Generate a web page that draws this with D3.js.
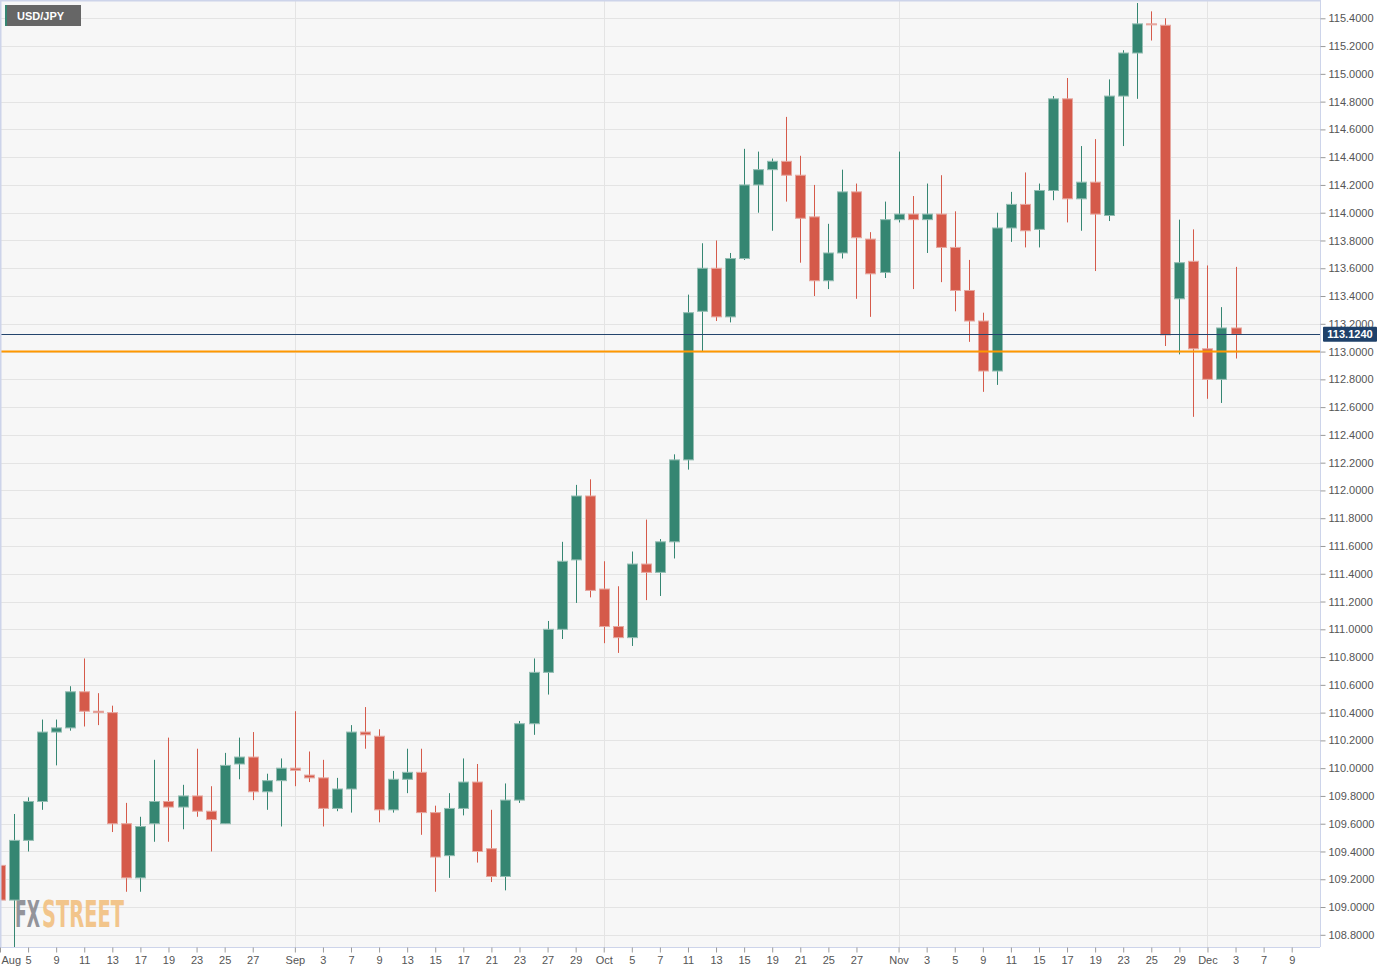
<!DOCTYPE html>
<html><head><meta charset="utf-8">
<script src="https://cdn.jsdelivr.net/npm/d3@7"></script>
<style>
html,body{margin:0;padding:0;background:#fff;}
svg{display:block;font-family:"Liberation Sans",Arial,sans-serif;}
</style></head><body>
<svg id="chart" width="1397" height="973"></svg>
<script>
// ---------- DATA ----------
const symbol = "USD/JPY";
const dates = [
"2021-08-03","2021-08-04","2021-08-05","2021-08-06","2021-08-09","2021-08-10","2021-08-11","2021-08-12","2021-08-13","2021-08-16",
"2021-08-17","2021-08-18","2021-08-19","2021-08-20","2021-08-23","2021-08-24","2021-08-25","2021-08-26","2021-08-27","2021-08-30",
"2021-08-31","2021-09-01","2021-09-02","2021-09-03","2021-09-06","2021-09-07","2021-09-08","2021-09-09","2021-09-10","2021-09-13",
"2021-09-14","2021-09-15","2021-09-16","2021-09-17","2021-09-20","2021-09-21","2021-09-22","2021-09-23","2021-09-24","2021-09-27",
"2021-09-28","2021-09-29","2021-09-30","2021-10-01","2021-10-04","2021-10-05","2021-10-06","2021-10-07","2021-10-08","2021-10-11",
"2021-10-12","2021-10-13","2021-10-14","2021-10-15","2021-10-18","2021-10-19","2021-10-20","2021-10-21","2021-10-22","2021-10-25",
"2021-10-26","2021-10-27","2021-10-28","2021-10-29","2021-11-01","2021-11-02","2021-11-03","2021-11-04","2021-11-05","2021-11-08",
"2021-11-09","2021-11-10","2021-11-11","2021-11-12","2021-11-15","2021-11-16","2021-11-17","2021-11-18","2021-11-19","2021-11-22",
"2021-11-23","2021-11-24","2021-11-25","2021-11-26","2021-11-29","2021-11-30","2021-12-01","2021-12-02","2021-12-03"];
const futureDates = ["2021-12-06","2021-12-07","2021-12-08","2021-12-09"];

const open = [109.30,109.05,109.48,109.76,110.26,110.29,110.55,110.41,110.40,109.60,
109.21,109.60,109.76,109.72,109.80,109.69,109.60,110.03,110.08,109.83,
109.91,110.00,109.95,109.93,109.71,109.85,110.26,110.23,109.70,109.92,
109.97,109.68,109.37,109.71,109.90,109.42,109.22,109.77,110.32,110.69,
111.00,111.50,111.96,111.29,111.02,110.94,111.47,111.41,111.63,112.22,
113.29,113.60,113.25,113.67,114.20,114.31,114.37,114.27,113.97,113.51,
113.71,114.15,113.81,113.57,113.95,113.99,113.95,113.99,113.75,113.44,
113.22,112.86,113.89,114.06,113.88,114.16,114.82,114.10,114.22,113.98,
114.84,115.15,115.36,115.35,113.38,113.65,113.02,112.80,113.17];
const high = [109.35,109.67,109.79,110.35,110.35,110.59,110.79,110.54,110.45,109.75,
109.65,110.06,110.22,109.88,110.14,109.87,110.11,110.22,110.26,109.96,
110.07,110.41,110.12,110.06,109.93,110.31,110.44,110.28,109.98,110.14,
110.14,109.73,109.82,110.07,110.03,109.70,109.89,110.34,110.79,111.06,
111.63,112.04,112.08,111.49,111.31,111.56,111.79,111.65,112.26,113.41,
113.78,113.80,113.71,114.46,114.44,114.39,114.69,114.41,114.20,113.92,
114.31,114.21,113.86,114.08,114.44,114.12,114.21,114.27,114.01,113.66,
113.28,114.00,114.15,114.29,114.21,114.84,114.97,114.48,114.53,114.96,
115.17,115.51,115.45,115.40,113.95,113.88,113.62,113.32,113.61];
const low = [108.88,108.71,109.40,109.70,110.02,110.27,110.30,110.31,109.54,109.11,
109.11,109.47,109.47,109.56,109.65,109.40,109.60,109.92,109.77,109.70,
109.58,109.87,109.90,109.58,109.69,109.68,110.14,109.61,109.68,109.82,
109.52,109.11,109.21,109.66,109.32,109.18,109.12,109.75,110.24,110.53,
110.93,111.19,111.23,110.90,110.83,110.88,111.21,111.24,111.51,112.15,
113.00,113.22,113.21,113.66,114.00,113.87,114.08,113.64,113.40,113.45,
113.67,113.38,113.25,113.53,113.93,113.45,113.71,113.50,113.29,113.07,
112.71,112.76,113.79,113.75,113.75,114.09,113.93,113.87,113.58,113.94,
114.48,114.82,115.24,113.04,112.98,112.53,112.66,112.63,112.95];
const close = [109.05,109.48,109.76,110.26,110.29,110.55,110.41,110.40,109.60,109.21,
109.58,109.76,109.72,109.80,109.69,109.63,110.02,110.08,109.83,109.91,
110.00,109.985,109.93,109.71,109.85,110.26,110.24,109.70,109.92,109.97,
109.68,109.36,109.71,109.90,109.40,109.22,109.77,110.32,110.69,111.00,
111.49,111.96,111.28,111.02,110.94,111.47,111.41,111.63,112.22,113.28,
113.60,113.25,113.67,114.20,114.31,114.37,114.27,113.96,113.51,113.71,
114.15,113.82,113.56,113.95,113.99,113.95,113.99,113.75,113.44,113.22,
112.86,113.89,114.06,113.87,114.16,114.82,114.10,114.22,113.99,114.84,
115.15,115.36,115.355,113.12,113.64,113.02,112.80,113.17,113.124];

const lastPrice = 113.124;
const levelLine = 113.0;

const tickDates = ["2021-08-03","2021-08-05","2021-08-09","2021-08-11","2021-08-13","2021-08-17","2021-08-19","2021-08-23","2021-08-25","2021-08-27",
"2021-09-01","2021-09-03","2021-09-07","2021-09-09","2021-09-13","2021-09-15","2021-09-17","2021-09-21","2021-09-23","2021-09-27","2021-09-29",
"2021-10-01","2021-10-05","2021-10-07","2021-10-11","2021-10-13","2021-10-15","2021-10-19","2021-10-21","2021-10-25","2021-10-27",
"2021-11-01","2021-11-03","2021-11-05","2021-11-09","2021-11-11","2021-11-15","2021-11-17","2021-11-19","2021-11-23","2021-11-25","2021-11-29",
"2021-12-01","2021-12-03","2021-12-07","2021-12-09"];
const tickLabels = ["Aug","5","9","11","13","17","19","23","25","27",
"Sep","3","7","9","13","15","17","21","23","27","29",
"Oct","5","7","11","13","15","19","21","25","27",
"Nov","3","5","9","11","15","17","19","23","25","29",
"Dec","3","7","9"];
const monthStarts = ["2021-09-01","2021-10-01","2021-11-01","2021-12-01"];
const yTickValues = [108.8,109.0,109.2,109.4,109.6,109.8,110.0,110.2,110.4,110.6,110.8,111.0,111.2,111.4,111.6,111.8,
112.0,112.2,112.4,112.6,112.8,113.0,113.2,113.4,113.6,113.8,114.0,114.2,114.4,114.6,114.8,115.0,115.2,115.4];
const watermarkParts = ["FX","STREET"];

// ---------- LAYOUT ----------
const plotW = 1320, plotH = 947;
const GREEN = "#358672", RED = "#d55a4a";
const GREEN_EDGE = "#93bdb2", RED_EDGE = "#e6a79f";

const svg = d3.select("#chart");
const x = d3.scalePoint().domain(dates.concat(futureDates)).range([0, 1291.7]);
const y = d3.scaleLinear().domain([108.8, 115.4]).range([934.8, 18.3]);

// background
svg.append("rect").attr("x",0).attr("y",0).attr("width",1397).attr("height",973).attr("fill","#ffffff");
svg.append("rect").attr("x",0).attr("y",0).attr("width",plotW).attr("height",plotH).attr("fill","#f7f7f7");

// grid
const grid = svg.append("g");
grid.selectAll("line.h").data(yTickValues).join("line")
  .attr("x1",0).attr("x2",plotW)
  .attr("y1",d=>Math.round(y(d))+0.5).attr("y2",d=>Math.round(y(d))+0.5)
  .attr("stroke","#e4e4e4").attr("stroke-width",1);
grid.selectAll("line.v").data(monthStarts).join("line")
  .attr("x1",d=>Math.round(x(d))+0.5).attr("x2",d=>Math.round(x(d))+0.5)
  .attr("y1",0).attr("y2",plotH)
  .attr("stroke","#e4e4e4").attr("stroke-width",1);

// watermark: two separate texts, each squeezed horizontally into its slot
const wmSlots = [{x0:15, x1:40, fill:"#8e8f96"}, {x0:42, x1:124, fill:"#f2c386"}];
watermarkParts.forEach((t,i)=>{
  const s = wmSlots[i];
  const g = svg.append("g").attr("opacity",0.95);
  const tx = g.append("text").attr("x",0).attr("y",0)
    .attr("font-family","'DejaVu Sans Condensed','Liberation Sans Narrow',sans-serif")
    .attr("font-weight","bold").attr("font-size",36.5)
    .attr("fill",s.fill).text(t);
  const w = tx.node().getComputedTextLength();
  const sx = (s.x1 - s.x0) / w;
  g.attr("transform",`translate(${s.x0},927) scale(${sx},1)`);
});

// candles
const candles = dates.map((d,i)=>({date:d, o:open[i], h:high[i], l:low[i], c:close[i]}));
const cg = svg.append("g");
const cx = d => Math.round(x(d.date));
cg.selectAll("line.wick").data(candles).join("line")
  .attr("x1",d=>cx(d)+0.5).attr("x2",d=>cx(d)+0.5)
  .attr("y1",d=>y(d.h)).attr("y2",d=>y(d.l))
  .attr("stroke",d=>d.c>=d.o?GREEN:RED).attr("stroke-width",1);
cg.selectAll("rect.body").data(candles).join("rect")
  .attr("x",d=>cx(d)-4.5).attr("width",10)
  .attr("y",d=>y(Math.max(d.o,d.c)))
  .attr("height",d=>Math.max(1, Math.abs(y(d.o)-y(d.c))))
  .attr("fill",d=>d.c>=d.o?GREEN:RED)
  .attr("stroke",d=>d.c>=d.o?GREEN_EDGE:RED_EDGE).attr("stroke-width",1);

// level lines
svg.append("line").attr("x1",0).attr("x2",plotW)
  .attr("y1",y(levelLine)).attr("y2",y(levelLine))
  .attr("stroke","#ff9800").attr("stroke-width",2);
svg.append("line").attr("x1",0).attr("x2",plotW)
  .attr("y1",Math.round(y(lastPrice))+0.5).attr("y2",Math.round(y(lastPrice))+0.5)
  .attr("stroke","#24456d").attr("stroke-width",1);

// borders
const border = "#cdd4ea";
svg.append("line").attr("x1",0).attr("x2",plotW).attr("y1",0.5).attr("y2",0.5).attr("stroke",border).attr("stroke-width",2);
svg.append("line").attr("x1",0.5).attr("x2",0.5).attr("y1",0).attr("y2",plotH).attr("stroke",border).attr("stroke-width",2);
svg.append("line").attr("x1",plotW+0.5).attr("x2",plotW+0.5).attr("y1",0).attr("y2",plotH).attr("stroke",border);
svg.append("line").attr("x1",0).attr("x2",plotW).attr("y1",plotH+0.5).attr("y2",plotH+0.5).attr("stroke",border);

// right axis
const yAxis = svg.append("g").attr("transform",`translate(${plotW+0.5},0)`)
  .call(d3.axisRight(y).tickValues(yTickValues).tickFormat(d3.format(".4f")).tickSize(5).tickPadding(3));
yAxis.select(".domain").remove();
yAxis.selectAll(".tick line").attr("stroke","#9a9a9a");
yAxis.selectAll(".tick text").attr("font-family","'Liberation Sans',Arial,sans-serif").attr("font-size",11).attr("fill","#555");

// bottom axis
const xAxis = svg.append("g").attr("transform",`translate(0,${plotH+0.5})`)
  .call(d3.axisBottom(x).tickValues(tickDates).tickFormat((d,i)=>tickLabels[i]).tickSize(5).tickPadding(4));
xAxis.select(".domain").remove();
xAxis.selectAll(".tick line").attr("stroke","#9a9a9a");
xAxis.selectAll(".tick text").attr("font-family","'Liberation Sans',Arial,sans-serif").attr("font-size",11).attr("fill","#555");
xAxis.selectAll(".tick").filter((d,i)=>i===0).select("text").attr("text-anchor","start").attr("x",1);

// last price label
const lp = svg.append("g").attr("transform",`translate(1323,${y(lastPrice)})`);
lp.append("rect").attr("x",0).attr("y",-7.5).attr("width",54).attr("height",15).attr("rx",1).attr("fill","#1f416a");
lp.append("text").attr("x",27).attr("y",4).attr("text-anchor","middle")
  .attr("font-size",11).attr("font-weight","bold").attr("fill","#fff").text(d3.format(".4f")(lastPrice));

// symbol label
const sl = svg.append("g");
sl.append("rect").attr("x",5).attr("y",5).attr("width",76).attr("height",21).attr("fill","#666666");
sl.append("rect").attr("x",5).attr("y",5).attr("width",2).attr("height",21).attr("fill",GREEN);
sl.append("text").attr("x",17).attr("y",19.5).attr("font-size",11).attr("font-weight","bold")
  .attr("fill","#ffffff").text(symbol);
</script>
</body></html>
